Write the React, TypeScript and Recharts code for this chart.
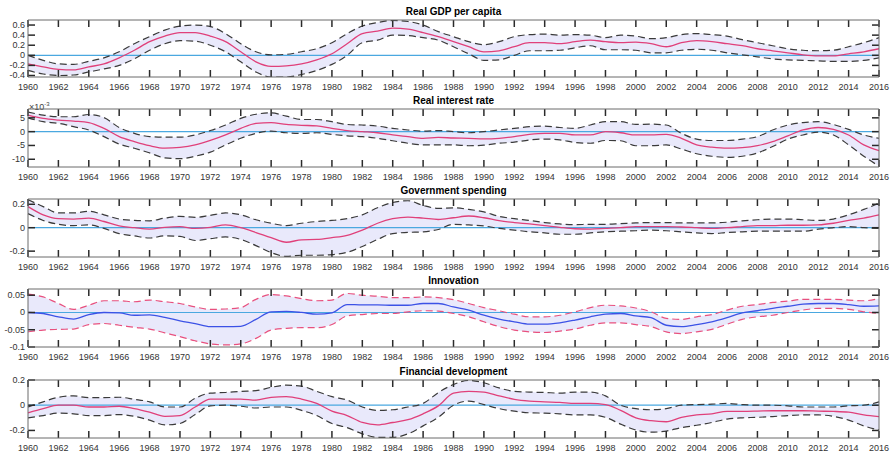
import React from 'react';
import { ComposedChart, Area, Line, XAxis, YAxis, ReferenceLine } from 'recharts';

// years 1960..2016
const YEARS = [
  1960, 1961, 1962, 1963, 1964, 1965, 1966, 1967, 1968, 1969,
  1970, 1971, 1972, 1973, 1974, 1975, 1976, 1977, 1978, 1979,
  1980, 1981, 1982, 1983, 1984, 1985, 1986, 1987, 1988, 1989,
  1990, 1991, 1992, 1993, 1994, 1995, 1996, 1997, 1998, 1999,
  2000, 2001, 2002, 2003, 2004, 2005, 2006, 2007, 2008, 2009,
  2010, 2011, 2012, 2013, 2014, 2015, 2016,
];
const YEAR_TICKS = [
  1960, 1962, 1964, 1966, 1968, 1970, 1972, 1974, 1976, 1978, 1980, 1982, 1984, 1986, 1988,
  1990, 1992, 1994, 1996, 1998, 2000, 2002, 2004, 2006, 2008, 2010, 2012, 2014, 2016,
];

// Real GDP per capita
const GDP_MED = [
  -0.17, -0.23, -0.28, -0.29, -0.23, -0.17, -0.05, 0.1, 0.27, 0.38,
  0.45, 0.45, 0.38, 0.27, 0.07, -0.13, -0.22, -0.21, -0.17, -0.09,
  0.03, 0.23, 0.43, 0.48, 0.54, 0.52, 0.45, 0.37, 0.27, 0.17,
  0.07, 0.09, 0.17, 0.25, 0.25, 0.23, 0.27, 0.3, 0.27, 0.25,
  0.26, 0.23, 0.17, 0.25, 0.29, 0.27, 0.23, 0.19, 0.13, 0.09,
  0.05, 0.01, -0.01, -0.01, 0.03, 0.07, 0.13,
];
const GDP_HI = [
  0.0, -0.1, -0.17, -0.18, -0.12, -0.05, 0.07, 0.23, 0.37, 0.5,
  0.58, 0.6, 0.57, 0.43, 0.23, 0.07, 0.01, 0.02, 0.07, 0.13,
  0.25, 0.43, 0.58, 0.65, 0.69, 0.67, 0.6, 0.47, 0.37, 0.27,
  0.21, 0.27, 0.37, 0.41, 0.42, 0.4, 0.41, 0.4, 0.35, 0.4,
  0.38, 0.33, 0.35, 0.41, 0.43, 0.41, 0.38, 0.31, 0.25, 0.19,
  0.13, 0.1, 0.09, 0.1, 0.17, 0.25, 0.35,
];
const GDP_LO = [
  -0.3, -0.37, -0.4, -0.39, -0.33, -0.27, -0.2, -0.07, 0.1, 0.23,
  0.29, 0.28, 0.2, 0.07, -0.13, -0.33, -0.43, -0.43, -0.38, -0.3,
  -0.18, 0.0, 0.25, 0.3, 0.4, 0.39, 0.35, 0.3, 0.17, 0.03,
  -0.1, -0.09, 0.0, 0.09, 0.09, 0.1, 0.15, 0.19, 0.11, 0.11,
  0.1, 0.05, 0.05, 0.1, 0.12, 0.1, 0.05, 0.01, -0.03, -0.07,
  -0.09, -0.1, -0.11, -0.12, -0.12, -0.1, -0.05,
];

// Real interest rate (x 10^-3)
const RIR_MED = [
  6.0, 4.8, 4.2, 3.8, 3.3, 1.2, -1.8, -3.6, -5.1, -6.0,
  -5.7, -4.8, -3.2, -1.2, 1.2, 3.0, 3.3, 2.6, 2.3, 2.1,
  1.2, 0.4, 0.0, -0.4, -1.2, -1.8, -2.4, -2.1, -2.3, -2.4,
  -2.6, -2.4, -1.8, -1.0, -0.6, -0.6, -1.2, -1.2, 0.0, -0.4,
  -1.2, -1.2, -1.0, -2.4, -4.8, -5.6, -6.0, -5.8, -5.1, -3.6,
  -1.5, 0.6, 1.5, 0.8, -1.2, -4.8, -6.9,
];
const RIR_HI = [
  7.1, 6.0, 5.4, 5.4, 6.2, 5.1, 1.5, -0.6, -1.8, -2.0,
  -2.0, -1.2, 0.4, 2.4, 4.8, 6.3, 6.8, 5.6, 4.4, 4.4,
  3.6, 2.6, 2.4, 2.0, 1.2, 0.6, 0.2, 0.4, 0.0, -0.4,
  0.0, 0.6, 1.2, 1.8, 2.0, 1.5, 1.2, 2.4, 3.6, 3.6,
  2.6, 2.7, 2.4, -0.6, -2.7, -3.2, -3.2, -2.7, -1.8, 0.6,
  2.4, 3.3, 3.6, 2.6, 0.8, -1.2, -2.4,
];
const RIR_LO = [
  5.0, 3.6, 3.0, 1.8, 0.6, -1.8, -4.5, -6.0, -7.7, -9.5,
  -9.8, -8.9, -7.4, -4.8, -2.4, -0.6, 0.2, -0.4, -0.6, -0.4,
  -1.0, -1.5, -1.8, -2.4, -3.3, -4.2, -4.8, -4.8, -4.8, -5.1,
  -4.9, -4.2, -3.8, -3.0, -2.7, -3.0, -3.9, -4.2, -3.2, -3.3,
  -5.1, -5.1, -4.8, -6.3, -8.0, -8.9, -9.3, -8.9, -7.7, -5.4,
  -2.7, -1.2, -0.2, -1.2, -4.8, -8.9, -12.5,
];

// Government spending
const GOV_MED = [
  0.18, 0.11, 0.077, 0.074, 0.082, 0.053, 0.015, 0.0, -0.012, 0.003,
  0.009, -0.006, 0.003, 0.024, 0.0, -0.041, -0.085, -0.124, -0.103, -0.1,
  -0.085, -0.065, -0.02, 0.038, 0.077, 0.091, 0.082, 0.07, 0.085, 0.1,
  0.085, 0.06, 0.044, 0.032, 0.018, 0.003, -0.009, -0.012, -0.006, 0.0,
  0.009, 0.009, 0.009, 0.006, 0.0, -0.006, 0.0, 0.009, 0.018, 0.018,
  0.021, 0.021, 0.024, 0.038, 0.062, 0.082, 0.109,
];
const GOV_HI = [
  0.24, 0.18, 0.126, 0.126, 0.14, 0.11, 0.074, 0.062, 0.059, 0.082,
  0.097, 0.088, 0.106, 0.126, 0.11, 0.068, 0.038, 0.018, 0.038, 0.053,
  0.062, 0.077, 0.11, 0.17, 0.215, 0.23, 0.19, 0.165, 0.17, 0.156,
  0.135, 0.097, 0.077, 0.062, 0.044, 0.032, 0.026, 0.029, 0.029, 0.035,
  0.041, 0.044, 0.044, 0.041, 0.041, 0.041, 0.047, 0.059, 0.068, 0.074,
  0.074, 0.068, 0.062, 0.074, 0.11, 0.156, 0.21,
];
const GOV_LO = [
  0.12, 0.062, 0.029, 0.018, 0.024, -0.006, -0.05, -0.07, -0.088, -0.07,
  -0.074, -0.109, -0.094, -0.079, -0.1, -0.153, -0.212, -0.245, -0.235, -0.235,
  -0.23, -0.21, -0.16, -0.1, -0.05, -0.04, -0.035, -0.015, 0.029, 0.024,
  0.015, -0.006, -0.02, -0.035, -0.044, -0.056, -0.056, -0.044, -0.035, -0.03,
  -0.026, -0.02, -0.026, -0.035, -0.044, -0.05, -0.041, -0.035, -0.03, -0.03,
  -0.03, -0.03, -0.012, 0.0, 0.009, 0.0, -0.006,
];

// Innovation
const INN_MED = [
  0.0, -0.003, -0.0125, -0.019, -0.006, 0.0, -0.001, -0.008, -0.007, -0.014,
  -0.024, -0.032, -0.041, -0.041, -0.04, -0.02, 0.002, 0.003, 0.0, -0.005,
  -0.001, 0.023, 0.022, 0.022, 0.021, 0.021, 0.026, 0.026, 0.016, 0.007,
  -0.008, -0.019, -0.027, -0.034, -0.034, -0.03, -0.022, -0.0125, -0.005, -0.003,
  -0.01, -0.015, -0.037, -0.041, -0.035, -0.027, -0.015, -0.001, 0.005, 0.012,
  0.018, 0.024, 0.026, 0.026, 0.023, 0.018, 0.019,
];
const INN_HI = [
  0.053, 0.045, 0.026, 0.009, 0.021, 0.034, 0.034, 0.031, 0.036, 0.031,
  0.026, 0.016, 0.009, 0.01, 0.014, 0.038, 0.052, 0.048, 0.04, 0.034,
  0.036, 0.055, 0.05, 0.047, 0.043, 0.043, 0.045, 0.043, 0.037, 0.026,
  0.014, 0.005, -0.005, -0.0125, -0.0125, -0.008, 0.002, 0.014, 0.021, 0.019,
  0.013, 0.002, -0.017, -0.02, -0.0125, -0.006, 0.007, 0.018, 0.023, 0.029,
  0.033, 0.038, 0.038, 0.038, 0.036, 0.034, 0.04,
];
const INN_LO = [
  -0.056, -0.051, -0.049, -0.048, -0.035, -0.032, -0.037, -0.043, -0.048, -0.059,
  -0.07, -0.082, -0.091, -0.094, -0.091, -0.075, -0.051, -0.046, -0.044, -0.044,
  -0.035, -0.01, -0.006, -0.003, -0.003, 0.002, 0.005, 0.004, -0.003, -0.0125,
  -0.027, -0.041, -0.051, -0.056, -0.058, -0.054, -0.048, -0.037, -0.03, -0.03,
  -0.035, -0.041, -0.056, -0.061, -0.056, -0.049, -0.034, -0.02, -0.0125, -0.008,
  0.0, 0.007, 0.012, 0.012, 0.009, 0.002, -0.003,
];

// Financial development
const FIN_MED = [
  -0.06, -0.027, 0.0, 0.0, -0.014, -0.014, -0.008, -0.027, -0.055, -0.088,
  -0.082, -0.014, 0.049, 0.049, 0.049, 0.041, 0.063, 0.068, 0.049, 0.014,
  -0.047, -0.082, -0.137, -0.156, -0.137, -0.115, -0.068, -0.005, 0.096, 0.11,
  0.104, 0.074, 0.047, 0.033, 0.027, 0.022, 0.014, 0.014, 0.005, -0.041,
  -0.1, -0.123, -0.131, -0.096, -0.077, -0.068, -0.049, -0.049, -0.047, -0.044,
  -0.044, -0.044, -0.047, -0.049, -0.055, -0.077, -0.09,
];
const FIN_HI = [
  -0.014, 0.027, 0.063, 0.074, 0.06, 0.06, 0.063, 0.047, 0.027, -0.014,
  -0.014, 0.055, 0.096, 0.101, 0.11, 0.115, 0.142, 0.159, 0.151, 0.11,
  0.068, 0.041, -0.014, -0.041, -0.036, -0.014, 0.014, 0.1, 0.164, 0.197,
  0.178, 0.137, 0.11, 0.104, 0.101, 0.096, 0.104, 0.104, 0.074, 0.0,
  -0.027, -0.036, -0.027, 0.0, 0.005, 0.008, 0.014, 0.005, 0.0, 0.0,
  -0.005, -0.014, -0.014, -0.014, -0.005, 0.0, 0.027,
];
const FIN_LO = [
  -0.1, -0.082, -0.063, -0.068, -0.082, -0.082, -0.074, -0.088, -0.118, -0.156,
  -0.145, -0.074, -0.005, 0.0, -0.008, -0.022, -0.014, -0.014, -0.041, -0.082,
  -0.145, -0.178, -0.227, -0.255, -0.255, -0.227, -0.164, -0.096, 0.0, 0.033,
  0.005, -0.027, -0.047, -0.06, -0.063, -0.068, -0.077, -0.077, -0.096, -0.15,
  -0.197, -0.214, -0.205, -0.178, -0.159, -0.137, -0.11, -0.1, -0.096, -0.09,
  -0.082, -0.077, -0.077, -0.088, -0.118, -0.164, -0.197,
];

const AXIS = '#6a6a6a';
const TICK = '#2a2a2a';
const LABEL = '#333';
const BAND = '#e9e9fb';
const ZERO = '#4aa8e0';
const RED = '#e0407a';
const BLUE = '#3c52e6';
const DASH_DARK = '#3a3a3a';
const DASH_PINK = '#e8507e';
const TICK_LEN = 7;

const PANELS = [
  { title: 'Real GDP per capita', top: 20, h: 57, domain: [-0.43, 0.7], ticks: [-0.4, -0.2, 0, 0.2, 0.4, 0.6], med: GDP_MED, hi: GDP_HI, lo: GDP_LO, medColor: RED, dashColor: DASH_DARK },
  { title: 'Real interest rate', top: 109, h: 58, domain: [-12.8, 8.2], ticks: [-10, -5, 0, 5], med: RIR_MED, hi: RIR_HI, lo: RIR_LO, medColor: RED, dashColor: DASH_DARK, exponent: true },
  { title: 'Government spending', top: 199, h: 58, domain: [-0.25, 0.245], ticks: [-0.2, 0, 0.2], med: GOV_MED, hi: GOV_HI, lo: GOV_LO, medColor: RED, dashColor: DASH_DARK },
  { title: 'Innovation', top: 289, h: 58, domain: [-0.1, 0.068], ticks: [-0.1, -0.05, 0, 0.05], med: INN_MED, hi: INN_HI, lo: INN_LO, medColor: BLUE, dashColor: DASH_PINK },
  { title: 'Financial development', top: 380, h: 58, domain: [-0.26, 0.2], ticks: [-0.2, 0, 0.2], med: FIN_MED, hi: FIN_HI, lo: FIN_LO, medColor: RED, dashColor: DASH_DARK },
];

const W = 893;
const PLOT_LEFT = 28;
const PLOT_RIGHT = 879;
const TOP_PAD = 10;
const X0 = 1960;
const X1 = 2016;

const BottomLabel = (props: any) => {
  const { x, y, payload } = props;
  return (
    <text x={x} y={y + 13} textAnchor="middle" fontSize={9} fill={LABEL}>
      {payload.value}
    </text>
  );
};
const LeftLabel = (props: any) => {
  const { x, y, payload } = props;
  return (
    <text x={x - 3} y={y + 3} textAnchor="end" fontSize={9} fill={LABEL}>
      {String(payload.value)}
    </text>
  );
};

function Panel({ p }: { p: any }) {
  const data = YEARS.map((year, i) => ({
    year,
    band: [p.lo[i], p.hi[i]],
    lo: p.lo[i],
    hi: p.hi[i],
    med: p.med[i],
  }));
  const [d0, d1] = p.domain;
  // inward tick length, converted to data units
  const dy = (TICK_LEN / p.h) * (d1 - d0);
  const dx = (TICK_LEN / (PLOT_RIGHT - PLOT_LEFT)) * (X1 - X0);
  const chartTop = p.top - TOP_PAD;
  const chartH = TOP_PAD + p.h + 20;
  return (
    <>
      <div
        style={{
          position: 'absolute',
          left: PLOT_LEFT,
          width: PLOT_RIGHT - PLOT_LEFT,
          top: p.top - 14,
          lineHeight: '12px',
          fontSize: 10,
          fontWeight: 'bold',
          textAlign: 'center',
          color: '#000',
        }}
      >
        {p.title}
      </div>
      {p.exponent && (
        <div style={{ position: 'absolute', left: 29, top: p.top - 10, fontSize: 9, lineHeight: '10px', color: '#444' }}>
          ×10<sup style={{ fontSize: 6 }}>-3</sup>
        </div>
      )}
      <div style={{ position: 'absolute', left: 0, top: chartTop, width: W, height: chartH }}>
        <ComposedChart width={W} height={chartH} data={data} margin={{ top: TOP_PAD, right: W - PLOT_RIGHT, bottom: 0, left: 0 }}>
          <XAxis
            dataKey="year"
            type="number"
            domain={[X0, X1]}
            ticks={YEAR_TICKS}
            interval={0}
            height={20}
            tickSize={0}
            tickMargin={0}
            tickLine={false}
            axisLine={false}
            tick={<BottomLabel />}
          />
          <YAxis
            yAxisId="l"
            type="number"
            domain={p.domain}
            ticks={p.ticks}
            interval={0}
            allowDataOverflow
            width={PLOT_LEFT}
            tickSize={0}
            tickMargin={0}
            tickLine={false}
            axisLine={false}
            tick={<LeftLabel />}
          />
          <Area yAxisId="l" dataKey="band" type="monotone" stroke="none" fill={BAND} fillOpacity={1} isAnimationActive={false} />
          <ReferenceLine yAxisId="l" y={0} stroke={ZERO} strokeWidth={1.2} />
          <Line yAxisId="l" dataKey="hi" type="monotone" stroke={p.dashColor} strokeWidth={1.2} strokeDasharray="7 4" dot={false} isAnimationActive={false} />
          <Line yAxisId="l" dataKey="lo" type="monotone" stroke={p.dashColor} strokeWidth={1.2} strokeDasharray="7 4" dot={false} isAnimationActive={false} />
          <Line yAxisId="l" dataKey="med" type="monotone" stroke={p.medColor} strokeWidth={1.3} dot={false} isAnimationActive={false} />
          {YEAR_TICKS.map((t) => (
            <ReferenceLine key={'b' + t} yAxisId="l" ifOverflow="visible" segment={[{ x: t, y: d0 }, { x: t, y: d0 + dy }]} stroke={TICK} strokeWidth={1.5} />
          ))}
          {YEAR_TICKS.map((t) => (
            <ReferenceLine key={'t' + t} yAxisId="l" ifOverflow="visible" segment={[{ x: t, y: d1 }, { x: t, y: d1 - dy }]} stroke={TICK} strokeWidth={1.5} />
          ))}
          {p.ticks.map((t: number) => (
            <ReferenceLine key={'l' + t} yAxisId="l" ifOverflow="visible" segment={[{ x: X0, y: t }, { x: X0 + dx, y: t }]} stroke={TICK} strokeWidth={1.5} />
          ))}
          {p.ticks.map((t: number) => (
            <ReferenceLine key={'r' + t} yAxisId="l" ifOverflow="visible" segment={[{ x: X1, y: t }, { x: X1 - dx, y: t }]} stroke={TICK} strokeWidth={1.5} />
          ))}
          {/* axes box */}
          <ReferenceLine yAxisId="l" y={d0} stroke={AXIS} strokeWidth={1} />
          <ReferenceLine yAxisId="l" y={d1} stroke={AXIS} strokeWidth={1} />
          <ReferenceLine yAxisId="l" x={X0} stroke={AXIS} strokeWidth={1} />
          <ReferenceLine yAxisId="l" x={X1} stroke={AXIS} strokeWidth={1} />
        </ComposedChart>
      </div>
    </>
  );
}

export default function App() {
  return (
    <div
      style={{
        position: 'absolute',
        left: 0,
        top: 0,
        width: W,
        height: 453,
        background: '#fff',
        fontFamily: '"Liberation Sans", Arial, Helvetica, sans-serif',
      }}
    >
      {PANELS.map((p) => (
        <Panel key={p.title} p={p} />
      ))}
    </div>
  );
}
